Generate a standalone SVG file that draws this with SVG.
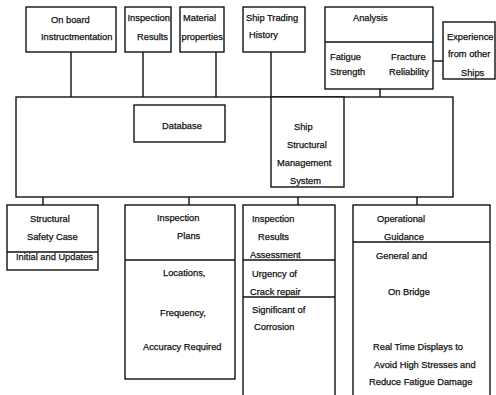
<svg xmlns="http://www.w3.org/2000/svg" width="496" height="395" viewBox="0 0 496 395">
<style>
rect,line{fill:none;stroke:#111;stroke-width:1.4}
rect{fill:#fff}
text{font-family:"Liberation Sans",Arial,sans-serif;font-size:9.3px;fill:#111;stroke:#111;stroke-width:0.25}
</style>
<rect x="0" y="0" width="496" height="395" style="stroke:none;fill:#fff"/>
<g id="connectors">
<line x1="71" y1="52" x2="71" y2="97"/>
<line x1="143" y1="52" x2="143" y2="97"/>
<line x1="216" y1="52" x2="216" y2="97"/>
<line x1="271" y1="52" x2="271" y2="97"/>
<line x1="380" y1="89" x2="380" y2="97"/>
<line x1="433" y1="61" x2="443" y2="61"/>
<line x1="225" y1="123" x2="271" y2="123"/>
<line x1="43" y1="197" x2="43" y2="205"/>
<line x1="189" y1="197" x2="189" y2="205"/>
<line x1="298" y1="197" x2="298" y2="205"/>
<line x1="417" y1="197" x2="417" y2="205"/>
</g>
<g id="onboard">
<rect x="26" y="7" width="90" height="45"/>
<text x="51" y="23">On board</text>
<text x="41" y="40">Instructmentation</text>
</g>
<g id="inspresults">
<rect x="125" y="7" width="46" height="45"/>
<text x="127.5" y="21">Inspection</text>
<text x="137" y="40">Results</text>
</g>
<g id="material">
<rect x="180" y="7" width="44" height="45"/>
<text x="183" y="21">Material</text>
<text x="181.5" y="40">properties</text>
</g>
<g id="trading">
<rect x="243" y="7" width="62" height="45"/>
<text x="246" y="21">Ship Trading</text>
<text x="249" y="38">History</text>
</g>
<g id="analysis">
<rect x="325" y="7" width="108" height="82"/>
<line x1="325" y1="42" x2="433" y2="42"/>
<text x="353" y="21">Analysis</text>
<text x="330" y="60">Fatigue</text>
<text x="330" y="75">Strength</text>
<text x="391" y="60">Fracture</text>
<text x="389" y="75">Reliability</text>
</g>
<g id="experience">
<rect x="443" y="22" width="52" height="57"/>
<text x="447" y="40">Experience</text>
<text x="448" y="57">from other</text>
<text x="461" y="76">Ships</text>
</g>
<g id="main">
<rect x="16" y="97" width="437" height="100"/>
</g>
<g id="database">
<rect x="134" y="105" width="91" height="37"/>
<text x="162" y="129">Database</text>
</g>
<g id="ssms">
<rect x="271" y="97" width="73" height="90"/>
<text x="294" y="130">Ship</text>
<text x="287" y="148">Structural</text>
<text x="277" y="166">Management</text>
<text x="290" y="184">System</text>
</g>
<g id="safety">
<rect x="7" y="205" width="91" height="65"/>
<line x1="7" y1="252" x2="98" y2="252"/>
<text x="30" y="222">Structural</text>
<text x="27" y="240">Safety Case</text>
<text x="16" y="259.5">Initial and Updates</text>
</g>
<g id="plans">
<rect x="125" y="205" width="110" height="174"/>
<line x1="125" y1="260" x2="235" y2="260"/>
<text x="157" y="221">Inspection</text>
<text x="177" y="239">Plans</text>
<text x="163" y="276">Locations,</text>
<text x="160" y="316">Frequency,</text>
<text x="143" y="350">Accuracy Required</text>
</g>
<g id="assessment">
<rect x="243" y="205" width="92" height="200"/>
<line x1="243" y1="260" x2="335" y2="260"/>
<line x1="243" y1="297" x2="335" y2="297"/>
<text x="252" y="222">Inspection</text>
<text x="258" y="240">Results</text>
<text x="250" y="258">Assessment</text>
<text x="252" y="277">Urgency of</text>
<text x="250" y="295">Crack repair</text>
<text x="252" y="313">Significant of</text>
<text x="254" y="330">Corrosion</text>
</g>
<g id="guidance">
<rect x="353" y="205" width="137" height="200"/>
<line x1="353" y1="242" x2="490" y2="242"/>
<text x="377" y="222">Operational</text>
<text x="384" y="240">Guidance</text>
<text x="376" y="259">General and</text>
<text x="388" y="295">On Bridge</text>
<text x="373" y="350">Real Time Displays to</text>
<text x="374" y="368">Avoid High Stresses and</text>
<text x="369" y="385">Reduce Fatigue Damage</text>
</g>
</svg>
